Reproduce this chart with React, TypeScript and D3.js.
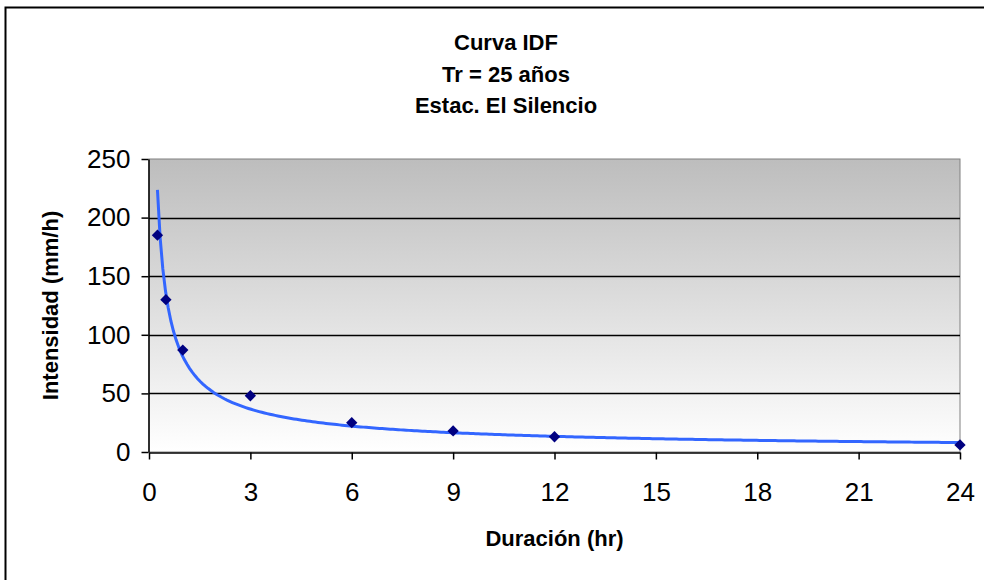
import { useEffect, useRef } from 'react';
import * as d3 from 'd3';

// Duración (hr) and intensidad (mm/h)
const duracion = [0.25, 0.5, 1, 3, 6, 9, 12, 24];
const intensidad = [185, 130, 87, 48, 25, 18, 13, 6];
const xTicks = [0, 3, 6, 9, 12, 15, 18, 21, 24];
const yTicks = [0, 50, 100, 150, 200, 250];
const titleLines = ['Curva IDF', 'Tr = 25 años', 'Estac. El Silencio'];

const W = 984;
const H = 580;
const FONT = '"Liberation Sans", Arial, sans-serif';

export default function App() {
  const svgRef = useRef<SVGSVGElement>(null);

  useEffect(() => {
    if (!svgRef.current) return;
    const svg = d3.select(svgRef.current);
    svg.selectAll('*').remove();

    const plot = { left: 149, right: 960, top: 159, bottom: 452 };

    const x = d3.scaleLinear().domain([0, 24]).range([plot.left, plot.right]);
    const y = d3.scaleLinear().domain([0, 250]).range([plot.bottom, plot.top]);

    // chart border
    svg.append('rect')
      .attr('x', 5.5).attr('y', 7.5)
      .attr('width', W).attr('height', H)
      .attr('fill', '#fff')
      .attr('stroke', '#000')
      .attr('stroke-width', 2);

    // plot background gradient
    const defs = svg.append('defs');
    const grad = defs.append('linearGradient')
      .attr('id', 'bg').attr('x1', 0).attr('y1', 0).attr('x2', 0).attr('y2', 1);
    grad.append('stop').attr('offset', '0%').attr('stop-color', '#bdbdbd');
    grad.append('stop').attr('offset', '100%').attr('stop-color', '#ffffff');

    svg.append('rect')
      .attr('x', plot.left).attr('y', plot.top)
      .attr('width', plot.right - plot.left).attr('height', plot.bottom - plot.top)
      .attr('fill', 'url(#bg)')
      .attr('stroke', '#808080')
      .attr('stroke-width', 1);

    // gridlines
    svg.append('g')
      .selectAll('line')
      .data(yTicks.filter(d => d > 0 && d < 250))
      .join('line')
      .attr('x1', plot.left).attr('x2', plot.right)
      .attr('y1', d => Math.round(y(d)) + 0.5).attr('y2', d => Math.round(y(d)) + 0.5)
      .attr('stroke', '#000')
      .attr('stroke-width', 1.3);

    // axes
    const xAxis = svg.append('g')
      .attr('transform', `translate(0,${plot.bottom + 0.5})`)
      .call(d3.axisBottom(x).tickValues(xTicks).tickSize(7).tickSizeOuter(0).tickPadding(23));
    xAxis.select('.domain').attr('stroke', '#000').attr('stroke-width', 1.5);
    xAxis.selectAll('line').attr('stroke', '#000').attr('stroke-width', 1.5);
    xAxis.selectAll('text')
      .attr('font-family', FONT).attr('font-size', 26).attr('fill', '#000');

    const yAxis = svg.append('g')
      .attr('transform', `translate(${plot.left - 0.5},0)`)
      .call(d3.axisLeft(y).tickValues(yTicks).tickSize(7).tickSizeOuter(0).tickPadding(11));
    yAxis.select('.domain').attr('stroke', '#000').attr('stroke-width', 1.5);
    yAxis.selectAll('line').attr('stroke', '#000').attr('stroke-width', 1.5);
    yAxis.selectAll('text')
      .attr('font-family', FONT).attr('font-size', 26).attr('fill', '#000');

    // power trendline fitted to the points (least squares in log-log)
    const lx = duracion.map(Math.log);
    const ly = intensidad.map(Math.log);
    const mx = d3.mean(lx) as number;
    const my = d3.mean(ly) as number;
    const b = d3.sum(lx, (v, i) => (v - mx) * (ly[i] - my)) / d3.sum(lx, v => (v - mx) ** 2);
    const a = Math.exp(my - b * mx);
    const x0 = d3.min(duracion) as number;
    const x1 = d3.max(duracion) as number;
    const fit = d3.range(0, 301).map(i => {
      const xv = x0 + (x1 - x0) * i / 300;
      return [xv, a * Math.pow(xv, b)] as [number, number];
    });

    svg.append('path')
      .datum(fit)
      .attr('fill', 'none')
      .attr('stroke', '#3366ff')
      .attr('stroke-width', 3)
      .attr('d', d3.line<[number, number]>().x(d => x(d[0])).y(d => y(d[1])));

    // data points
    const diamond = d3.symbol(d3.symbolSquare, 64);
    svg.append('g')
      .selectAll('path')
      .data(duracion)
      .join('path')
      .attr('d', diamond)
      .attr('transform', (d, i) => `translate(${x(d)},${y(intensidad[i])}) rotate(45)`)
      .attr('fill', '#000080');

    // titles
    svg.append('g')
      .selectAll('text')
      .data(titleLines)
      .join('text')
      .attr('x', 506)
      .attr('y', (d, i) => 50 + i * 31.5)
      .attr('text-anchor', 'middle')
      .attr('font-family', FONT)
      .attr('font-weight', 'bold')
      .attr('font-size', 22)
      .text(d => d);

    svg.append('text')
      .attr('x', (plot.left + plot.right) / 2)
      .attr('y', 546)
      .attr('text-anchor', 'middle')
      .attr('font-family', FONT)
      .attr('font-weight', 'bold')
      .attr('font-size', 22)
      .text('Duración (hr)');

    svg.append('text')
      .attr('transform', `translate(58,${(plot.top + plot.bottom) / 2}) rotate(-90)`)
      .attr('text-anchor', 'middle')
      .attr('font-family', FONT)
      .attr('font-weight', 'bold')
      .attr('font-size', 22)
      .text('Intensidad (mm/h)');
  }, []);

  return (
    <svg
      ref={svgRef}
      width={W}
      height={H}
      style={{ position: 'absolute', left: 0, top: 0, display: 'block' }}
    />
  );
}
